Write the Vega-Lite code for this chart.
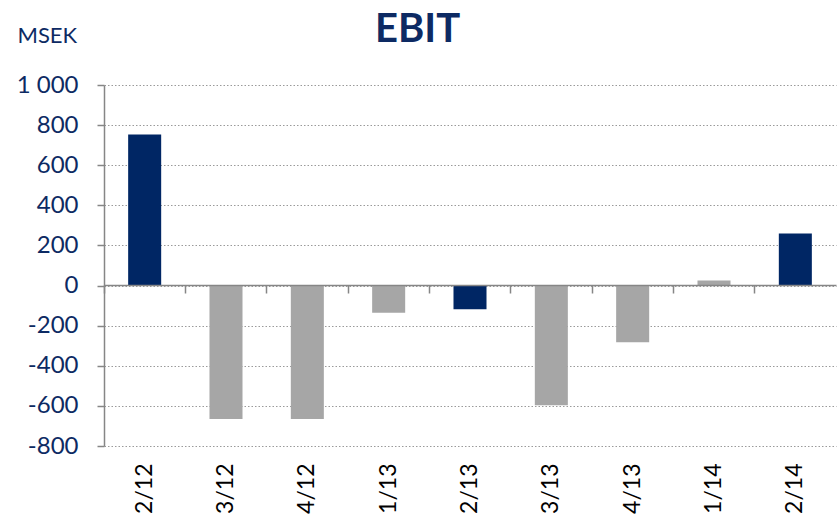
{
  "$schema": "https://vega.github.io/schema/vega-lite/v6.json",
  "autosize": "none",
  "padding": {"left": 104, "top": 85, "right": 4, "bottom": 69},
  "width": 732,
  "height": 361,
  "background": "white",
  "title": {
    "text": "EBIT",
    "anchor": "start",
    "frame": "group",
    "baseline": "alphabetic",
    "dx": 271,
    "offset": -58,
    "font": "Lato",
    "fontSize": 40,
    "fontWeight": "bold",
    "color": "#0d2a63"
  },
  "config": {
    "view": {"stroke": null},
    "font": "Lato"
  },
  "data": {
    "values": [
      {"quarter": "2/12", "value": 753, "group": "Q2"},
      {"quarter": "3/12", "value": -665, "group": "other"},
      {"quarter": "4/12", "value": -665, "group": "other"},
      {"quarter": "1/13", "value": -136, "group": "other"},
      {"quarter": "2/13", "value": -118, "group": "Q2"},
      {"quarter": "3/13", "value": -597, "group": "other"},
      {"quarter": "4/13", "value": -283, "group": "other"},
      {"quarter": "1/14", "value": 25, "group": "other"},
      {"quarter": "2/14", "value": 260, "group": "Q2"}
    ]
  },
  "resolve": {"axis": {"x": "independent"}},
  "layer": [
    {
      "mark": {"type": "bar", "width": {"band": 0.406}},
      "encoding": {
        "x": {
          "field": "quarter",
          "type": "nominal",
          "sort": null,
          "scale": {"paddingInner": 0, "paddingOuter": 0},
          "axis": {
            "title": null,
            "orient": "bottom",
            "domain": false,
            "ticks": false,
            "grid": false,
            "labelAngle": -90,
            "labelAlign": "right",
            "labelBaseline": "middle",
            "labelPadding": 17,
            "labelFont": "Lato",
            "labelFontSize": 23,
            "labelColor": "#000000"
          }
        },
        "y": {
          "field": "value",
          "type": "quantitative",
          "scale": {"domain": [-800, 1000], "nice": false, "zero": false},
          "axis": {
            "values": [-800, -600, -400, -200, 0, 200, 400, 600, 800, 1000],
            "labelExpr": "replace(replace(format(datum.value, ','), ',', ' '), '\u2212', '-')",
            "title": "MSEK",
            "titleAngle": 0,
            "titleAlign": "left",
            "titleBaseline": "alphabetic",
            "titleX": -87,
            "titleY": -43,
            "titleFont": "Lato",
            "titleFontSize": 22,
            "titleFontWeight": "normal",
            "titleColor": "#0d2a63",
            "labelFont": "Lato",
            "labelFontSize": 24,
            "labelColor": "#0d2a63",
            "labelPadding": 19,
            "tickSize": 7,
            "tickColor": "#868686",
            "tickWidth": 1.5,
            "domainColor": "#868686",
            "domainWidth": 1.5,
            "grid": true,
            "gridColor": "#9a9a9a",
            "gridDash": [1.5, 2],
            "gridWidth": 1
          }
        },
        "color": {
          "field": "group",
          "type": "nominal",
          "scale": {"domain": ["Q2", "other"], "range": ["#002664", "#a6a6a6"]},
          "legend": null
        }
      }
    },
    {
      "mark": {"type": "bar", "opacity": 0, "width": {"band": 0.406}},
      "encoding": {
        "x": {
          "field": "quarter",
          "type": "nominal",
          "sort": null,
          "axis": {
            "title": null,
            "orient": "bottom",
            "offset": -161,
            "labels": false,
            "grid": false,
            "domain": true,
            "domainColor": "#868686",
            "domainWidth": 1.5,
            "ticks": true,
            "tickSize": 8,
            "tickColor": "#868686",
            "tickWidth": 1.5,
            "bandPosition": 0,
            "zindex": 1
          }
        },
        "y": {"datum": 0, "type": "quantitative"}
      }
    }
  ]
}
